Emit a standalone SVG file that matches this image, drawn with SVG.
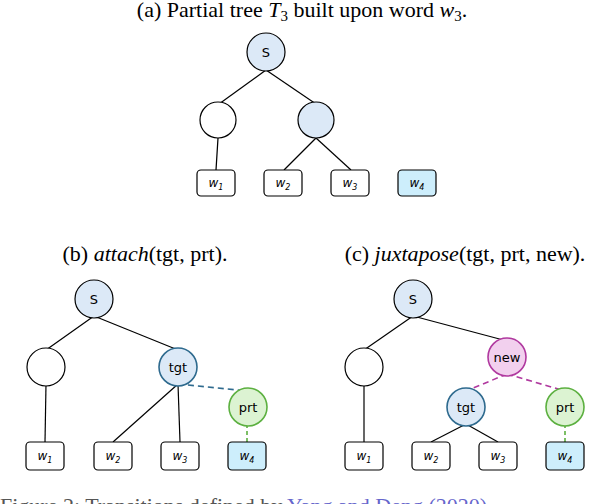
<svg xmlns="http://www.w3.org/2000/svg" width="604" height="504" viewBox="0 0 604 504">
<style>
.t{font-family:"Liberation Serif",serif;font-size:22px;fill:#000}
.n{stroke:#000;stroke-width:1.2;fill:#fff}
.b{fill:#dce9f7}
.lbl{font-family:"DejaVu Sans",sans-serif;font-size:13px;text-anchor:middle}
.w{font-family:"DejaVu Sans",sans-serif;font-size:12px;font-style:italic;text-anchor:middle}
.e line{stroke:#000;stroke-width:1.2}
</style>
<rect width="604" height="504" fill="#fff"/>
<text class="t" x="302" y="17" text-anchor="middle">(a) Partial tree <tspan font-style="italic">T</tspan><tspan font-size="15" dy="4">3</tspan><tspan dy="-4"> built upon word </tspan><tspan font-style="italic">w</tspan><tspan font-size="15" dy="4">3</tspan><tspan dy="-4">.</tspan></text>
<text class="t" x="145" y="261" text-anchor="middle">(b) <tspan font-style="italic">attach</tspan>(tgt, prt).</text>
<text class="t" x="465" y="261" text-anchor="middle">(c) <tspan font-style="italic">juxtapose</tspan>(tgt, prt, new).</text>
<text class="t" x="0" y="513" style="fill:#555">Figure 2: Transitions defined by <tspan style="fill:#66c">Yang and Deng (2020)</tspan></text>
<g class="e" id="connectors">
<line x1="266" y1="70" x2="219" y2="104"/><line x1="266" y1="70" x2="316" y2="104"/>
<line x1="218" y1="138" x2="216" y2="170"/><line x1="316" y1="138" x2="284" y2="170"/><line x1="316" y1="138" x2="351" y2="170"/>
<line x1="94" y1="316" x2="46" y2="350"/><line x1="94" y1="316" x2="178" y2="350"/>
<line x1="46" y1="384" x2="45" y2="442"/><line x1="178" y1="384" x2="113" y2="442"/><line x1="178" y1="384" x2="180" y2="442"/>
<line x1="178" y1="384" x2="247" y2="391" style="stroke:#2e6a8e;stroke-dasharray:6,4;stroke-width:1.6"/>
<line x1="247" y1="424" x2="247" y2="442" style="stroke:#5cb040;stroke-dasharray:4,3;stroke-width:1.6"/>
<line x1="413" y1="316" x2="364" y2="350"/><line x1="413" y1="316" x2="507" y2="341"/>
<line x1="364" y1="384" x2="364" y2="442"/><line x1="466" y1="424" x2="431" y2="442"/><line x1="466" y1="424" x2="498" y2="442"/>
<line x1="507" y1="374" x2="466" y2="391" style="stroke:#b0399f;stroke-dasharray:6,4;stroke-width:1.6"/>
<line x1="507" y1="374" x2="565" y2="391" style="stroke:#b0399f;stroke-dasharray:6,4;stroke-width:1.6"/>
<line x1="565" y1="424" x2="565" y2="442" style="stroke:#5cb040;stroke-dasharray:4,3;stroke-width:1.6"/>
</g>
<g id="a_S"><circle class="n b" cx="266" cy="52" r="19"/><text class="lbl" x="266" y="57">S</text></g>
<g id="a_L"><circle class="n" cx="218" cy="120" r="18"/></g>
<g id="a_R"><circle class="n b" cx="316" cy="120" r="18"/></g>
<g id="a_w1"><rect class="n" x="197" y="170" width="38" height="26" rx="4"/><text class="w" x="216" y="187">w<tspan font-size="8" dy="3">1</tspan></text></g>
<g id="a_w2"><rect class="n" x="264" y="170" width="38" height="26" rx="4"/><text class="w" x="283" y="187">w<tspan font-size="8" dy="3">2</tspan></text></g>
<g id="a_w3"><rect class="n" x="331" y="170" width="38" height="26" rx="4"/><text class="w" x="350" y="187">w<tspan font-size="8" dy="3">3</tspan></text></g>
<g id="a_w4"><rect class="n" x="398" y="170" width="38" height="26" rx="4" style="fill:#cdeefc"/><text class="w" x="417" y="187">w<tspan font-size="8" dy="3">4</tspan></text></g>

<g id="b_S"><circle class="n b" cx="94" cy="299" r="19"/><text class="lbl" x="94" y="304">S</text></g>
<g id="b_L"><circle class="n" cx="46" cy="367" r="19"/></g>
<g id="b_tgt"><circle class="n b" cx="178" cy="367" r="19" style="stroke:#2e6a8e;stroke-width:1.6"/><text class="lbl" x="178" y="372">tgt</text></g>
<g id="b_prt"><circle class="n" cx="248" cy="407" r="19" style="fill:#dcf3d2;stroke:#5cb040;stroke-width:1.6"/><text class="lbl" x="248" y="412">prt</text></g>
<g id="b_w1"><rect class="n" x="26" y="442" width="38" height="28" rx="4"/><text class="w" x="45" y="460">w<tspan font-size="8" dy="3">1</tspan></text></g>
<g id="b_w2"><rect class="n" x="94" y="442" width="38" height="28" rx="4"/><text class="w" x="113" y="460">w<tspan font-size="8" dy="3">2</tspan></text></g>
<g id="b_w3"><rect class="n" x="161" y="442" width="38" height="28" rx="4"/><text class="w" x="180" y="460">w<tspan font-size="8" dy="3">3</tspan></text></g>
<g id="b_w4"><rect class="n" x="228" y="442" width="38" height="28" rx="4" style="fill:#cdeefc"/><text class="w" x="247" y="460">w<tspan font-size="8" dy="3">4</tspan></text></g>

<g id="c_S"><circle class="n b" cx="413" cy="299" r="19"/><text class="lbl" x="413" y="304">S</text></g>
<g id="c_L"><circle class="n" cx="364" cy="367" r="19"/></g>
<g id="c_new"><circle class="n" cx="507" cy="357" r="19" style="fill:#f2d0ee;stroke:#b0399f;stroke-width:1.6"/><text class="lbl" x="507" y="362">new</text></g>
<g id="c_tgt"><circle class="n b" cx="466" cy="407" r="19" style="stroke:#2e6a8e;stroke-width:1.6"/><text class="lbl" x="466" y="412">tgt</text></g>
<g id="c_prt"><circle class="n" cx="565" cy="407" r="19" style="fill:#dcf3d2;stroke:#5cb040;stroke-width:1.6"/><text class="lbl" x="565" y="412">prt</text></g>
<g id="c_w1"><rect class="n" x="345" y="442" width="38" height="28" rx="4"/><text class="w" x="364" y="460">w<tspan font-size="8" dy="3">1</tspan></text></g>
<g id="c_w2"><rect class="n" x="412" y="442" width="38" height="28" rx="4"/><text class="w" x="431" y="460">w<tspan font-size="8" dy="3">2</tspan></text></g>
<g id="c_w3"><rect class="n" x="479" y="442" width="38" height="28" rx="4"/><text class="w" x="498" y="460">w<tspan font-size="8" dy="3">3</tspan></text></g>
<g id="c_w4"><rect class="n" x="546" y="442" width="38" height="28" rx="4" style="fill:#cdeefc"/><text class="w" x="565" y="460">w<tspan font-size="8" dy="3">4</tspan></text></g>
</svg>
